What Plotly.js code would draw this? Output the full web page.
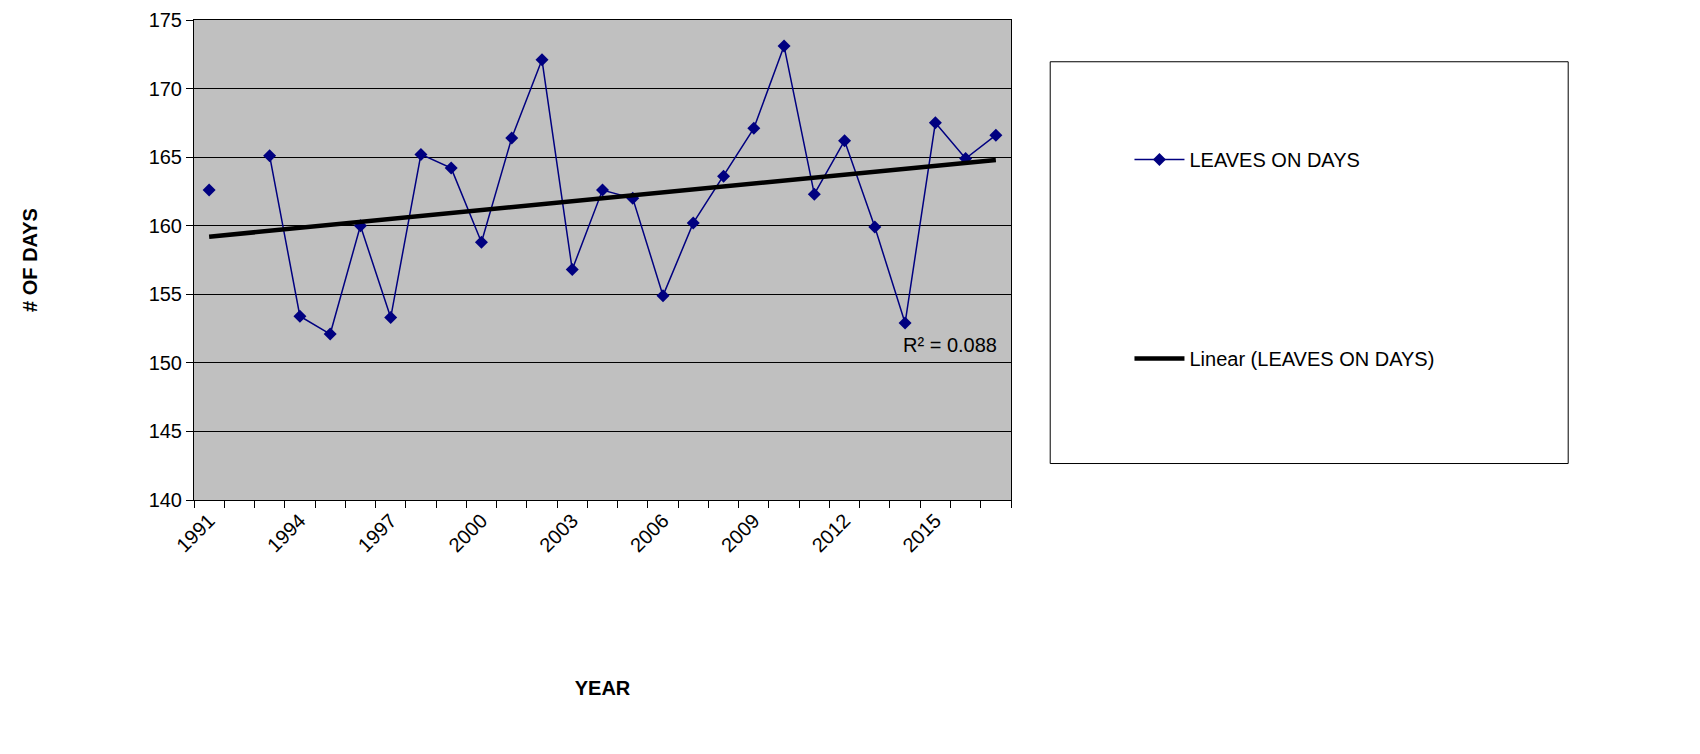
<!DOCTYPE html>
<html>
<head>
<meta charset="utf-8">
<script src="https://cdn.plot.ly/plotly-3.0.1.min.js"></script>
<style>body{margin:0;background:#fff}#chart{width:1700px;height:754px}</style>
</head>
<body>
<div id="chart"></div>
<script>
const years = [1991,1992,1993,1994,1995,1996,1997,1998,1999,2000,2001,2002,2003,2004,2005,2006,2007,2008,2009,2010,2011,2012,2013,2014,2015,2016,2017];
const leavesOnDays = [162.6,null,165.1,153.4,152.1,160.0,153.3,165.2,164.2,158.8,166.4,172.1,156.8,162.6,162.0,154.9,160.2,163.6,167.1,173.1,162.3,166.2,159.9,152.9,167.5,164.9,166.6];
const trendYears = [1991, 2017];
const trendValues = [159.2, 164.8];
const tickYears = [1991,1994,1997,2000,2003,2006,2009,2012,2015];

const font = {family: 'Liberation Sans, Arial, sans-serif', color: '#000', size: 20};

const data = [
  {x: years, y: leavesOnDays, name: 'LEAVES ON DAYS', mode: 'lines+markers', type: 'scatter',
   line: {color: '#000080', width: 1.5}, marker: {symbol: 'diamond', size: 10, color: '#000080'},
   legendgroup: 'a', connectgaps: false},
  {x: trendYears, y: trendValues, name: 'Linear (LEAVES ON DAYS)', mode: 'lines', type: 'scatter',
   line: {color: '#000', width: 4.5}, legendgroup: 'b'}
];

const layout = {
  width: 1700, height: 754,
  margin: {l: 194, r: 689, t: 20, b: 254},
  plot_bgcolor: '#c0c0c0', paper_bgcolor: '#fff',
  font: font,
  showlegend: true,
  legend: {x: 1.145, y: 0.75, xanchor: 'left', yanchor: 'top', tracegroupgap: 170, itemwidth: 50,
    font: {family: font.family, size: 20, color: '#000'}, bgcolor: 'rgba(0,0,0,0)'},
  xaxis: {range: [1990.5, 2017.5], tickvals: tickYears, ticktext: tickYears.map(String),
    tickangle: -45, ticks: 'outside', ticklen: 0, showgrid: false, zeroline: false,
    showline: true, linecolor: '#000', linewidth: 1, mirror: true,
    minor: {tick0: 1990.5, dtick: 1, ticks: 'outside', ticklen: 7, tickcolor: '#000', showgrid: false},
    tickfont: {size: 20},
    title: {text: '<b>YEAR</b>', font: {size: 20}, standoff: 125}},
  yaxis: {range: [140, 175], dtick: 5, ticks: 'outside', ticklen: 7, tickcolor: '#000',
    gridcolor: '#000', gridwidth: 1, zeroline: false,
    showline: true, linecolor: '#000', linewidth: 1, mirror: true,
    tickfont: {size: 20},
    title: {text: '<b># OF DAYS</b>', font: {size: 20}, standoff: 105}},
  shapes: [{type: 'rect', xref: 'paper', yref: 'paper', x0: 1.048, x1: 1.682, y0: 0.076, y1: 0.913,
    line: {color: '#000', width: 1}, fillcolor: 'rgba(0,0,0,0)'}],
  annotations: [{xref: 'x', yref: 'y', x: 2015.5, y: 151.3, text: 'R² = 0.088', showarrow: false,
    font: {size: 20}, xanchor: 'center'}]
};

Plotly.newPlot('chart', data, layout, {displayModeBar: false});
</script>
</body>
</html>
